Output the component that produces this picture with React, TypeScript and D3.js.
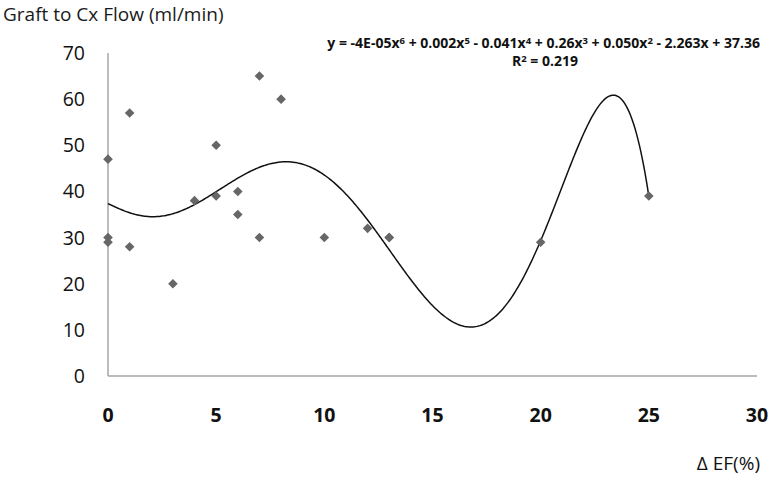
import React from "react";
import * as d3 from "d3";

const deltaEF = [0, 0, 0, 1, 1, 3, 4, 5, 5, 6, 6, 7, 7, 8, 10, 12, 13, 13, 20, 25];
const flow = [47, 30, 29, 57, 28, 20, 38, 50, 39, 40, 35, 65, 30, 60, 30, 32, 30, 30, 29, 39];
const xTicks = [0, 5, 10, 15, 20, 25, 30];
const yTicks = [0, 10, 20, 30, 40, 50, 60, 70];
const yTitle = "Graft to Cx Flow (ml/min)";
const xTitle = "\u0394 EF(%)";
const eqParts: [string, string][] = [
  ["y = -4E-05x", "6"],
  [" + 0.002x", "5"],
  [" - 0.041x", "4"],
  [" + 0.26x", "3"],
  [" + 0.050x", "2"],
  [" - 2.263x + 37.36", ""],
];
const r2Label = ["R", "2", " = 0.219"];

function polyfit(xs: number[], ys: number[], deg: number, s: number) {
  const n = deg + 1;
  const A: number[][] = Array.from({ length: n }, () => new Array(n + 1).fill(0));
  xs.forEach((xv, k) => {
    const t = xv / s;
    const pw: number[] = [];
    for (let i = 0; i < 2 * n; i++) pw.push(Math.pow(t, i));
    for (let i = 0; i < n; i++) {
      for (let j = 0; j < n; j++) A[i][j] += pw[i + j];
      A[i][n] += pw[i] * ys[k];
    }
  });
  for (let c = 0; c < n; c++) {
    let p = c;
    for (let r = c + 1; r < n; r++) if (Math.abs(A[r][c]) > Math.abs(A[p][c])) p = r;
    [A[c], A[p]] = [A[p], A[c]];
    for (let r = 0; r < n; r++) {
      if (r === c) continue;
      const f = A[r][c] / A[c][c];
      for (let j = c; j <= n; j++) A[r][j] -= f * A[c][j];
    }
  }
  const coef = A.map((row, i) => row[n] / row[i]);
  return (xv: number) => {
    const t = xv / s;
    let v = 0;
    for (let i = n - 1; i >= 0; i--) v = v * t + coef[i];
    return v;
  };
}

export default function App() {
  const W = 772, H = 478;
  const x = d3.scaleLinear().domain([0, 30]).range([108, 757]);
  const y = d3.scaleLinear().domain([0, 70]).range([376, 53]);
  const f = polyfit(deltaEF, flow, 6, 25);
  const xmin = d3.min(deltaEF) as number;
  const xmax = d3.max(deltaEF) as number;
  const samples = d3.range(0, 401).map((i) => xmin + (i / 400) * (xmax - xmin));
  const line = d3
    .line<number>()
    .x((d) => x(d))
    .y((d) => y(f(d)));
  const font = "'Open Sans', 'DejaVu Sans', sans-serif";
  const axisColor = "#a6a6a6";
  return (
    <svg
      width={W}
      height={H}
      viewBox={`0 0 ${W} ${H}`}
      style={{ position: "absolute", left: 0, top: 0, background: "#fff" }}
      fontFamily={font}
    >
      <rect width={W} height={H} fill="#fff" />
      <text x={3} y={21} fontSize={19} fill="#1a1a1a">
        {yTitle}
      </text>
      <line x1={x(0)} x2={x(0)} y1={y(70)} y2={y(0)} stroke={axisColor} strokeWidth={1.5} />
      <line x1={x(0)} x2={x(30)} y1={y(0)} y2={y(0)} stroke={axisColor} strokeWidth={1.5} />
      {yTicks.map((t) => (
        <text key={t} x={85} y={y(t)} dy="0.36em" textAnchor="end" fontSize={19.5} fill="#111">
          {t}
        </text>
      ))}
      {xTicks.map((t) => (
        <text key={t} x={x(t)} y={414.5} dy="0.36em" textAnchor="middle" fontSize={19.5} fontWeight="bold" fill="#111">
          {t}
        </text>
      ))}
      <text x={760} y={470} textAnchor="end" fontSize={19} fill="#111">
        {xTitle}
      </text>
      <path d={line(samples) || ""} fill="none" stroke="#111" strokeWidth={1.5} />
      {deltaEF.map((d, i) => {
        const cx = x(d), cy = y(flow[i]), r = 4.8;
        return (
          <path
            key={i}
            d={`M${cx},${cy - r}L${cx + r},${cy}L${cx},${cy + r}L${cx - r},${cy}Z`}
            fill="#666"
          />
        );
      })}
      <text x={760} y={48} textAnchor="end" fontSize={14} fontWeight="bold" fill="#111">
        {eqParts.map(([a, sup], i) => (
          <React.Fragment key={i}>
            <tspan dy={i > 0 ? 4 : 0}>{a}</tspan>
            {sup ? (
              <tspan fontSize={9.5} dy={-4}>
                {sup}
              </tspan>
            ) : null}
          </React.Fragment>
        ))}
      </text>
      <text x={545} y={66} textAnchor="middle" fontSize={14} fontWeight="bold" fill="#111">
        <tspan>{r2Label[0]}</tspan>
        <tspan fontSize={9.5} dy={-4}>
          {r2Label[1]}
        </tspan>
        <tspan dy={4}>{r2Label[2]}</tspan>
      </text>
    </svg>
  );
}
